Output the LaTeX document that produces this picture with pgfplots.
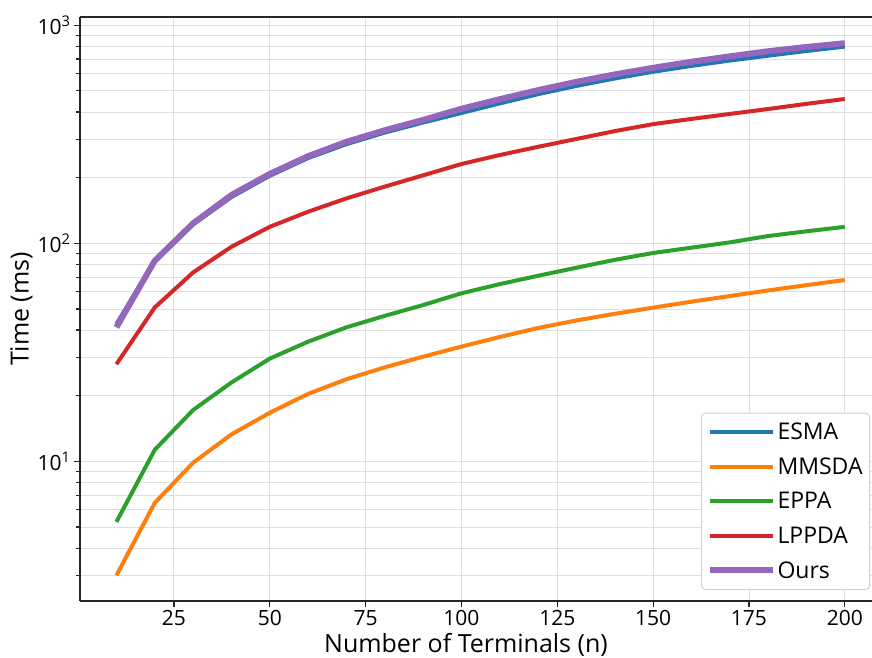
\documentclass[border=0pt]{standalone}
\usepackage{fontspec}
\setmainfont{Open Sans}
\usepackage{pgfplots}
\pgfplotsset{compat=1.18}
\definecolor{cEsma}{HTML}{1F77B4}
\definecolor{cMmsda}{HTML}{FF7F0E}
\definecolor{cEppa}{HTML}{2CA02C}
\definecolor{cLppda}{HTML}{D62728}
\definecolor{cOurs}{HTML}{9467BD}
\begin{document}
\begin{tikzpicture}
\begin{axis}[name=ax,
  scale only axis, width=792pt, height=584pt,
  xmin=0.5, xmax=207.1,
  ymode=log, ymin=2.29, ymax=1091,
  axis x line*=box, axis y line*=left,
  xtick pos=left, tick align=outside,
  xtick={25,50,...,200},
  ytick={10,100,1000},
  yticklabels={10\textsuperscript{1},10\textsuperscript{2},10\textsuperscript{3}},
  minor ytick={2,3,4,5,6,7,8,9,20,30,40,50,60,70,80,90,200,300,400,500,600,700,800,900},
  grid=both,
  major grid style={draw=black!12, line width=0.9pt},
  minor grid style={draw=black!12, line width=0.9pt},
  major tick length=6pt, minor tick length=3.5pt,
  every tick/.style={black!85, line width=1.2pt},
  axis line style={black!85, line width=2pt},
  /pgf/number format/assume math mode=true,
  tick label style={font=\fontsize{21}{25}\selectfont},
  label style={font=\fontsize{25}{30}\selectfont},
  xlabel={Number of Terminals (n)},
  ylabel={Time (ms)},
  xlabel style={xshift=-10pt, yshift=-1pt},
  ylabel style={yshift=-2pt},
  legend cell align=left,
  legend style={at={(1,0)}, anchor=south east, xshift=-2pt, yshift=11pt,
    draw=black!18, line width=0.9pt, rounded corners=4pt,
    font=\fontsize{23}{28}\selectfont, row sep=12.5pt,
    inner xsep=5pt, inner ysep=8pt},
  legend image code/.code={\draw[#1] (0pt,0pt) -- (51pt,0pt); \path (0pt,0pt) -- (63pt,0pt);},
  every axis plot/.append style={line join=round},
]
\addplot[cEsma, line width=4pt] coordinates {(10,42.7)(20,83)(30,122)(40,163)(50,204)(60,246)(70,285)(80,322)(90,358)(100,396)(110,438)(120,483)(130,527)(140,570)(150,612)(160,651)(170,689)(180,725)(190,762)(200,798)};
\addlegendentry{ESMA}
\addplot[cMmsda, line width=4pt] coordinates {(10,3.0)(20,6.45)(30,9.86)(40,13.3)(50,16.7)(60,20.4)(70,23.8)(80,27.0)(90,30.2)(100,33.6)(110,37.2)(120,40.9)(130,44.3)(140,47.5)(150,50.7)(160,54)(170,57.3)(180,60.8)(190,64.3)(200,67.9)};
\addlegendentry{MMSDA}
\addplot[cEppa, line width=4pt] coordinates {(10,5.28)(20,11.3)(30,17.2)(40,23.0)(50,29.6)(60,35.4)(70,41.2)(80,46.5)(90,52.1)(100,59.0)(110,65)(120,71)(130,77.3)(140,84)(150,90.3)(160,95.5)(170,101)(180,108)(190,113.5)(200,119)};
\addlegendentry{EPPA}
\addplot[cLppda, line width=4pt] coordinates {(10,27.9)(20,50.8)(30,73.5)(40,96.4)(50,119)(60,139.6)(70,160.7)(80,182)(90,205)(100,231)(110,254)(120,277)(130,301)(140,327)(150,352)(160,372)(170,392)(180,413)(190,436)(200,459)};
\addlegendentry{LPPDA}
\addplot[cOurs, line width=6pt] coordinates {(10,41.2)(20,83.2)(30,123.5)(40,166.5)(50,208)(60,251)(70,292)(80,330)(90,368)(100,414)(110,458)(120,504)(130,550)(140,595)(150,638)(160,680)(170,720)(180,760)(190,795)(200,827)};
\addlegendentry{Ours}
\end{axis}
\pgfresetboundingbox
\useasboundingbox ([shift={(-80pt,-57pt)}]ax.south west) rectangle ([shift={(0pt,17pt)}]ax.north east);
\end{tikzpicture}
\end{document}
